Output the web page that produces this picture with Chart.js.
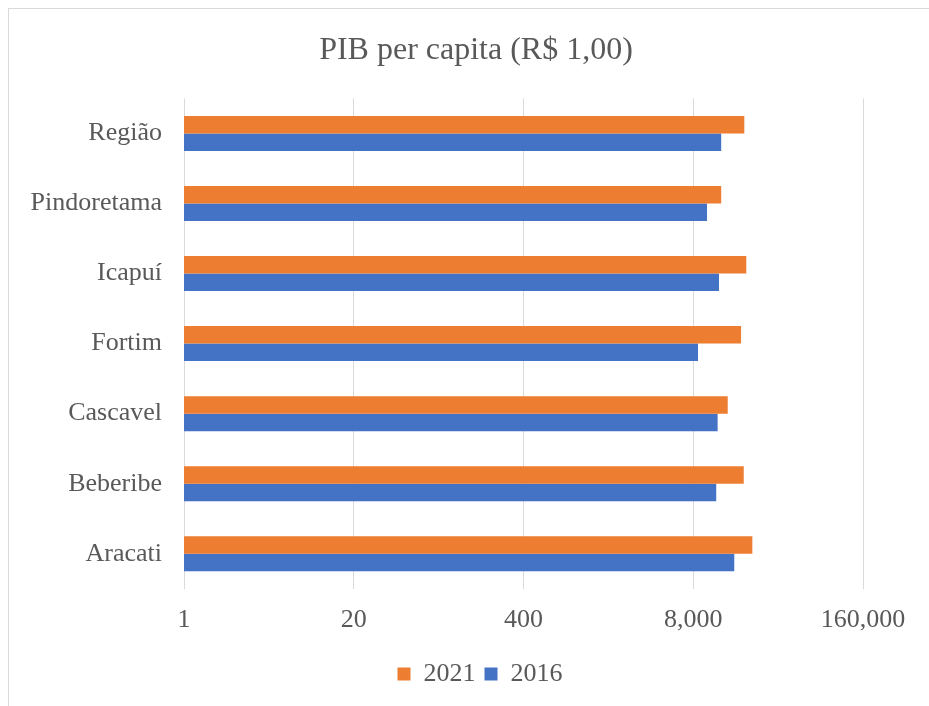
<!DOCTYPE html>
<html>
<head>
<meta charset="utf-8">
<script src="https://cdn.jsdelivr.net/npm/chart.js@4"></script>
<style>
  html, body { margin: 0; padding: 0; background: #fff; overflow: hidden; }
  .frame {
    position: absolute; left: 8px; top: 8px;
    width: 940px; height: 710px;
    border-top: 1px solid #d9d9d9; border-left: 1px solid #d9d9d9;
  }
  canvas { display: block; }
</style>
</head>
<body>
<div class="frame">
  <canvas id="chart" width="935" height="697"></canvas>
</div>
<script>
const categories = ['Região', 'Pindoretama', 'Icapuí', 'Fortim', 'Cascavel', 'Beberibe', 'Aracati'];
const pib2021 = [19700, 13100, 20400, 18600, 14700, 19500, 22700];
const pib2016 = [13100, 10200, 12600, 8700, 12300, 12000, 16500];
const xTicks = [1, 20, 400, 8000, 160000];

const textColor = '#595959';
const fontFamily = "'Liberation Serif', 'Times New Roman', serif";

// the source chart is cropped on the right, so title and legend
// are centred on a wider box than the plot
const recentre = {
  id: 'recentre',
  afterLayout(chart) {
    chart.titleBlock.left = 80;
    chart.legend.left = 88;
  },
};

const ctx = document.getElementById('chart');

new Chart(ctx, {
  type: 'bar',
  data: {
    labels: categories,
    datasets: [
      { label: '2021', data: pib2021, backgroundColor: '#ED7D31' },
      { label: '2016', data: pib2016, backgroundColor: '#4472C4' },
    ],
  },
  options: {
    indexAxis: 'y',
    responsive: false,
    animation: false,
    devicePixelRatio: 1,
    barPercentage: 1,
    categoryPercentage: 0.5,
    layout: { padding: { top: 12, left: 0, right: 81, bottom: 9 } },
    plugins: {
      title: {
        display: true,
        text: 'PIB per capita (R$ 1,00)',
        color: textColor,
        font: { family: fontFamily, size: 32, weight: 'normal' },
        padding: { top: 10, bottom: 29 },
      },
      legend: {
        position: 'bottom',
        labels: {
          color: textColor,
          font: { family: fontFamily, size: 26 },
          boxWidth: 13,
          boxHeight: 13,
          padding: 9,
        },
      },
      tooltip: { enabled: false },
    },
    scales: {
      x: {
        type: 'logarithmic',
        min: 1,
        max: 160000,
        afterBuildTicks: (scale) => {
          scale.ticks = xTicks.map((v) => ({ value: v }));
        },
        ticks: {
          color: textColor,
          font: { family: fontFamily, size: 26 },
          padding: 16,
          autoSkip: false,
          maxRotation: 0,
          callback: (value) => Number(value).toLocaleString('en-US'),
        },
        grid: { color: '#d9d9d9', lineWidth: 1, drawTicks: false },
        border: { display: false },
      },
      y: {
        afterFit: (scale) => { scale.width = 175; },
        ticks: {
          color: textColor,
          font: { family: fontFamily, size: 26 },
          padding: 22,
        },
        grid: { display: false, drawTicks: false },
        border: { display: false },
      },
    },
  },
  plugins: [recentre],
});
</script>
</body>
</html>
